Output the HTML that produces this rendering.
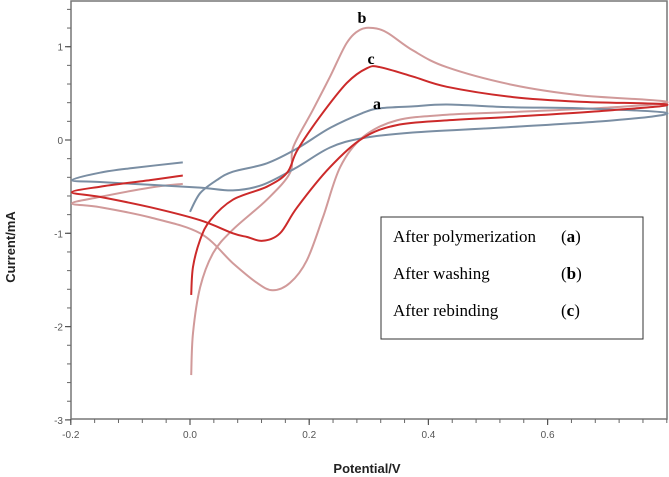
<!DOCTYPE html>
<html><head><meta charset="utf-8">
<style>
html,body{margin:0;padding:0;background:#fff;}
svg{display:block;}
.tick{font-family:"Liberation Sans",sans-serif;font-size:10px;fill:#555;}
.ttl{font-family:"Liberation Sans",sans-serif;font-size:13px;font-weight:bold;fill:#222;}
.lg{font-family:"Liberation Serif",serif;font-size:17px;fill:#000;}
.lb{font-family:"Liberation Serif",serif;font-size:16px;font-weight:bold;fill:#000;}
</style></head><body>
<svg id="chart" width="669" height="477" viewBox="0 0 669 477">
<rect x="71" y="1" width="596" height="418" fill="none" stroke="#777" stroke-width="1.5"/>
<g id="axes"></g>
<g id="series"></g>
<text class="ttl" transform="translate(15,247) rotate(-90)" text-anchor="middle">Current/mA</text>
<text class="ttl" x="367" y="473" text-anchor="middle">Potential/V</text>
<text class="lb" x="362" y="23" text-anchor="middle">b</text>
<text class="lb" x="371" y="64" text-anchor="middle">c</text>
<text class="lb" x="377" y="109" text-anchor="middle">a</text>
<g>
<rect x="381" y="217" width="262" height="122" fill="#fff" stroke="#333" stroke-width="1"/>
<text class="lg" x="393" y="242">After polymerization</text>
<text class="lg" x="561" y="242">(<tspan font-weight="bold">a</tspan>)</text>
<text class="lg" x="393" y="279">After washing</text>
<text class="lg" x="561" y="279">(<tspan font-weight="bold">b</tspan>)</text>
<text class="lg" x="393" y="316">After rebinding</text>
<text class="lg" x="561" y="316">(<tspan font-weight="bold">c</tspan>)</text>
</g>
</svg>
<script>
const xTicks=[-0.2,0.0,0.2,0.4,0.6];
const xTickLabels=["-0.2","0.0","0.2","0.4","0.6"];
const yTicks=[1,0,-1,-2,-3];
const yTickLabels=["1","0","-1","-2","-3"];
const aV=[0.00,0.017,0.045,0.072,0.129,0.180,0.235,0.290,0.319,0.374,0.431,0.542,0.654,0.80,0.710,0.542,0.374,0.290,0.235,0.180,0.122,0.072,0.017,-0.067,-0.151,-0.198,-0.151,-0.096,-0.012];
const aI=[-0.77,-0.57,-0.43,-0.34,-0.25,-0.09,0.13,0.29,0.34,0.36,0.38,0.35,0.34,0.29,0.21,0.14,0.08,0.02,-0.08,-0.29,-0.48,-0.54,-0.51,-0.48,-0.45,-0.43,-0.35,-0.30,-0.24];
const bV=[0.002,0.005,0.017,0.039,0.072,0.129,0.168,0.173,0.206,0.235,0.263,0.285,0.307,0.331,0.374,0.431,0.542,0.654,0.80,0.710,0.542,0.431,0.347,0.290,0.252,0.223,0.196,0.168,0.139,0.112,0.072,0.017,-0.067,-0.151,-0.198,-0.151,-0.067,-0.012];
const bI=[-2.52,-2.07,-1.58,-1.21,-0.96,-0.64,-0.35,-0.08,0.32,0.68,1.04,1.18,1.20,1.15,0.96,0.78,0.59,0.48,0.41,0.35,0.30,0.27,0.21,0.03,-0.29,-0.83,-1.29,-1.53,-1.61,-1.53,-1.32,-1.00,-0.83,-0.72,-0.68,-0.61,-0.51,-0.47];
const cV=[0.002,0.005,0.017,0.034,0.072,0.129,0.163,0.180,0.218,0.263,0.297,0.319,0.374,0.431,0.542,0.654,0.80,0.710,0.542,0.431,0.347,0.290,0.235,0.180,0.151,0.122,0.096,0.072,0.017,-0.067,-0.151,-0.198,-0.151,-0.067,-0.012];
const cI=[-1.66,-1.36,-1.07,-0.86,-0.64,-0.50,-0.35,-0.11,0.25,0.61,0.77,0.78,0.68,0.57,0.46,0.41,0.38,0.32,0.25,0.21,0.16,0.02,-0.29,-0.72,-1.00,-1.08,-1.04,-1.00,-0.86,-0.72,-0.61,-0.56,-0.50,-0.43,-0.38];

const NS="http://www.w3.org/2000/svg";
function sx(v){return 190+(v)*596;}
function sy(i){return 140-i*93.3;}
const axes=document.getElementById('axes');
const series=document.getElementById('series');
function mk(tag,attrs,parent){const e=document.createElementNS(NS,tag);for(const k in attrs)e.setAttribute(k,attrs[k]);parent.appendChild(e);return e;}
for(let k=0;k<=25;k++){const v=-0.2+k*0.04;const x=sx(v);if(x>667)break;
 const t=mk('line',{x1:x,x2:x,y1:419,y2:423,stroke:'#666','stroke-width':1},axes);
 
 }
xTicks.forEach((v,i)=>{const x=sx(v);
 const t=mk('line',{x1:x,x2:x,y1:419,y2:425,stroke:'#555','stroke-width':1.2},axes);
 
 
 const l=mk('text',{x:x,y:438,'text-anchor':'middle',class:'tick'},axes);l.textContent=xTickLabels[i];
 
 });
for(let k=0;k<=22;k++){const v=-3+k*0.2;const y=sy(v);if(y<2)break;
 const t=mk('line',{x1:67,x2:71,y1:y,y2:y,stroke:'#666','stroke-width':1},axes);
 
 }
yTicks.forEach((v,i)=>{const y=sy(v);
 const t=mk('line',{x1:65,x2:71,y1:y,y2:y,stroke:'#555','stroke-width':1.2},axes);
 
 
 const l=mk('text',{x:63,y:y+4,'text-anchor':'end',class:'tick'},axes);l.textContent=yTickLabels[i];
 
 });
function draw(V,I,color,w,name){
 const P=V.map((v,i)=>[sx(v),sy(I[i])]);
 let d='M'+P[0][0].toFixed(1)+','+P[0][1].toFixed(1);
 for(let i=0;i<P.length-1;i++){
  const p0=P[Math.max(0,i-1)],p1=P[i],p2=P[i+1],p3=P[Math.min(P.length-1,i+2)];
  const c1=[p1[0]+(p2[0]-p0[0])/6,p1[1]+(p2[1]-p0[1])/6];
  const c2=[p2[0]-(p3[0]-p1[0])/6,p2[1]-(p3[1]-p1[1])/6];
  d+=' C'+c1[0].toFixed(1)+','+c1[1].toFixed(1)+' '+c2[0].toFixed(1)+','+c2[1].toFixed(1)+' '+p2[0].toFixed(1)+','+p2[1].toFixed(1);
 }
 const p=mk('path',{d:d,fill:'none',stroke:color,'stroke-width':w,'stroke-linejoin':'round'},series);
 
 }
draw(bV,bI,'#d19a9a',2,'curve-b-washing');
draw(aV,aI,'#7a8ea3',2,'curve-a-polymerization');
draw(cV,cI,'#cc2a2a',2,'curve-c-rebinding');
</script>
</body></html>
